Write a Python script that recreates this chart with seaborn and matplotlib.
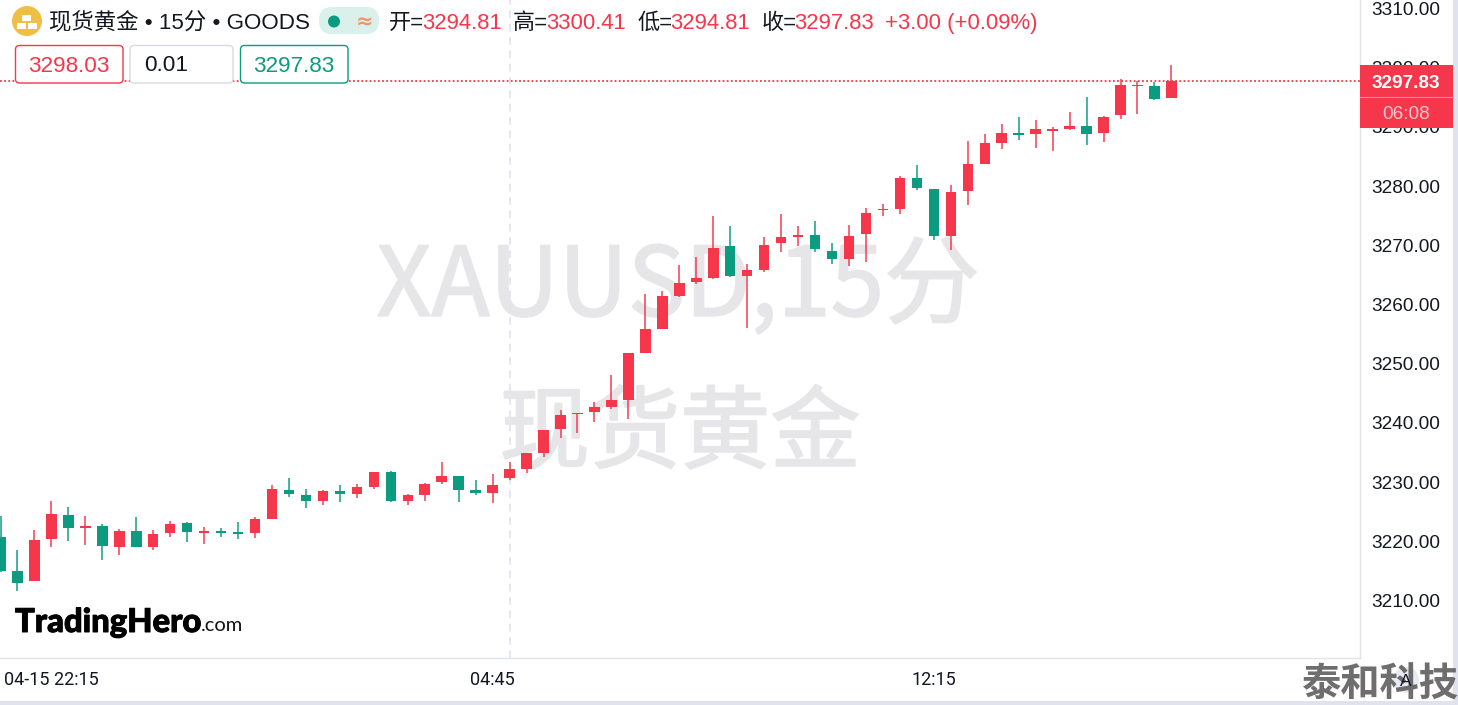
import numpy as np
import pandas as pd
import matplotlib
matplotlib.use("Agg")
import matplotlib.pyplot as plt
import matplotlib.patheffects as pe
import seaborn as sns
from matplotlib.patches import Circle, FancyBboxPatch, Rectangle

# OHLC, one candle every 15 minutes
opens = [3220.78, 3214.98, 3213.24, 3220.34, 3224.49, 3222.25, 3222.64, 3219.09, 3221.79, 3219.09,
         3221.35, 3223.04, 3221.45, 3221.74, 3221.52, 3221.35, 3223.72, 3228.67, 3227.87, 3226.76,
         3228.45, 3227.99, 3229.12, 3231.66, 3226.81, 3227.87, 3230.02, 3230.98, 3228.61, 3228.21,
         3230.64, 3232.16, 3234.92, 3238.92, 3241.45, 3241.84, 3242.64, 3243.87, 3251.76, 3255.86,
         3261.49, 3263.80, 3264.43, 3269.83, 3264.81, 3265.83, 3270.44, 3271.40, 3271.69, 3269.09,
         3267.74, 3271.91, 3275.96, 3276.13, 3281.37, 3279.51, 3271.52, 3279.17, 3283.68, 3287.33,
         3288.92, 3288.85, 3289.36, 3289.65, 3290.20, 3288.97, 3292.06, 3296.86, 3296.91, 3294.81]
highs = [3224.27, 3218.53, 3221.86, 3226.81, 3225.74, 3224.27, 3222.87, 3222.03, 3224.05, 3221.91,
         3223.43, 3223.31, 3222.42, 3222.25, 3223.21, 3224.10, 3229.51, 3230.69, 3228.83, 3228.61,
         3229.51, 3229.63, 3231.66, 3231.82, 3227.99, 3229.85, 3233.40, 3230.98, 3230.36, 3231.42,
         3233.40, 3235.00, 3238.80, 3242.18, 3241.62, 3243.53, 3248.14, 3251.76, 3261.77, 3262.23,
         3266.67, 3268.02, 3274.95, 3273.26, 3266.79, 3271.35, 3275.24, 3273.26, 3274.05, 3270.44,
         3273.38, 3276.25, 3276.93, 3281.66, 3283.56, 3279.51, 3280.14, 3287.57, 3288.85, 3290.44,
         3291.67, 3291.11, 3290.03, 3292.57, 3295.05, 3291.84, 3298.04, 3297.75, 3297.53, 3300.41]
lows = [3214.81, 3211.60, 3213.24, 3219.04, 3220.10, 3219.43, 3216.89, 3217.74, 3219.09, 3218.48,
        3220.78, 3219.83, 3219.49, 3220.68, 3220.44, 3220.51, 3223.72, 3227.48, 3225.63, 3226.18,
        3226.64, 3227.26, 3228.78, 3226.64, 3226.18, 3226.86, 3229.68, 3226.69, 3227.87, 3226.52,
        3230.36, 3231.49, 3234.29, 3237.50, 3238.29, 3240.10, 3242.30, 3240.71, 3251.76, 3255.86,
        3261.27, 3263.46, 3264.26, 3264.65, 3256.08, 3265.44, 3268.82, 3269.93, 3268.82, 3266.89,
        3266.50, 3267.18, 3274.95, 3275.29, 3279.39, 3270.84, 3269.26, 3276.81, 3283.68, 3286.22,
        3287.74, 3286.44, 3285.98, 3289.43, 3286.89, 3287.45, 3291.33, 3292.23, 3294.54, 3294.81]
closes = [3215.03, 3213.01, 3220.17, 3224.66, 3222.25, 3222.64, 3219.26, 3221.79, 3219.09, 3221.28,
          3222.92, 3221.52, 3221.74, 3221.45, 3221.23, 3223.72, 3228.78, 3227.94, 3226.81, 3228.45,
          3228.04, 3229.12, 3231.66, 3226.81, 3227.87, 3229.73, 3231.08, 3228.67, 3228.21, 3229.51,
          3232.16, 3235.00, 3238.80, 3241.28, 3241.62, 3242.69, 3243.87, 3251.76, 3255.86, 3261.44,
          3263.63, 3264.43, 3269.59, 3264.81, 3265.78, 3270.00, 3271.35, 3271.74, 3269.32, 3267.74,
          3271.52, 3275.51, 3276.18, 3281.37, 3279.63, 3271.52, 3279.00, 3283.68, 3287.33, 3289.02,
          3288.68, 3289.59, 3289.59, 3290.20, 3288.85, 3291.67, 3297.08, 3297.08, 3294.76, 3297.83]

price_ticks = [3210, 3220, 3230, 3240, 3250, 3260, 3270, 3280, 3290, 3300, 3310]
time_idx = [3, 29, 55]
time_labels = ["04-15 22:15", "04:45", "12:15"]
last_price = 3297.83
crosshair_idx = 30

RED = "#F6364B"
GREEN = "#0A9B80"
LINE = "#E0E3EE"
WM = "#E6E6E9"
LATIN = ["Liberation Sans", "Noto Sans CJK SC"]

W, H = 1458, 705
AX_R, AX_B = 1360, 657.5
PX_PER_BAR = 16.97

sns.set_theme(style="white")
plt.rcParams["font.family"] = LATIN

df = pd.DataFrame({"idx": np.arange(len(opens)), "open": opens, "high": highs, "low": lows, "close": closes})
df["body"] = (df["close"] - df["open"]).abs()
df["bottom"] = df[["open", "close"]].min(axis=1)
df["up"] = df["close"] >= df["open"]

fig = plt.figure(figsize=(W / 100, H / 100), dpi=100)
ax = fig.add_axes([0, (H - AX_B) / H, AX_R / W, AX_B / H])

for is_up, color in [(True, RED), (False, GREEN)]:
    part = df[df["up"] == is_up]
    ax.vlines(part["idx"], part["low"], part["high"], color=color, lw=1.25, alpha=0.85, zorder=2)
    sns.barplot(data=part, x="idx", y="body", bottom=part["bottom"].to_numpy(), native_scale=True,
                color=color, saturation=1, width=0.62, errorbar=None, linewidth=0, zorder=3, ax=ax)

ax.set_xlim(-0.03, (AX_R - 0.5) / PX_PER_BAR)
ax.set_ylim(3210 + (600.5 - AX_B) / 5.92, 3210 + 600.5 / 5.92)
ax.axvline(crosshair_idx, color=LINE, lw=1.2, ls=(0, (4.5, 3.5)), zorder=1)
ax.axhline(last_price, color=RED, lw=1.3, ls=(0, (1.0, 1.3)), zorder=4)

ax.set_xlabel("")
ax.set_ylabel("")
ax.yaxis.tick_right()
ax.set_yticks(price_ticks, [f"{p:.2f}" for p in price_ticks])
ax.set_xticks(time_idx, time_labels)
ax.tick_params(axis="y", length=0, pad=8.5, labelsize=13.7, labelcolor="#131722")
ax.tick_params(axis="x", length=0, pad=9.5, labelsize=13, labelcolor="#131722")
for lab in ax.get_xticklabels():
    lab.set_family("Roboto")
sns.despine(ax=ax, top=True, left=True, right=False, bottom=False)
for side in ["right", "bottom"]:
    ax.spines[side].set_color(LINE)
    ax.spines[side].set_linewidth(1.0)


def wm(x, y, s, size):
    t = ax.text(x / AX_R, 1 - y / AX_B, s, transform=ax.transAxes, color=WM, fontsize=size,
                ha="center", va="center", zorder=0.5, family=["Noto Sans CJK SC", "DejaVu Sans"])
    t.set_path_effects([pe.withStroke(linewidth=1.3, foreground=WM)])


wm(678, 288, "XAUUSD,15分", 69)
wm(680, 436, "现货黄金", 65)

# overlay in picture pixels for the header and other chrome
ov = fig.add_axes([0, 0, 1, 1], zorder=5)
ov.set_xlim(0, W)
ov.set_ylim(H, 0)
ov.axis("off")
ov.patch.set_alpha(0)


def txt(x, y, s, color="#131722", size=15.9, ha="left", va="baseline", **kw):
    kw.setdefault("family", LATIN)
    return ov.text(x, y, s, color=color, fontsize=size, ha=ha, va=va, **kw)


def box(x0, y0, x1, y1, edge):
    ov.add_patch(FancyBboxPatch((x0 + 3, y0 + 3), x1 - x0 - 6, y1 - y0 - 6, boxstyle="round,pad=3,rounding_size=4",
                                fc="white", ec=edge, lw=1.0))


# icon
ov.add_patch(Circle((27, 21), 15, fc="#EFBE45", ec="none"))
for x0, y0 in [(22, 15), (17, 23), (28, 23)]:
    ov.add_patch(Rectangle((x0, y0), 9.5, 5.5, fc="white", ec="none"))

txt(49, 29, "现货黄金 • 15分 • GOODS", size=16.15)
ov.add_patch(FancyBboxPatch((326, 14), 46, 13, boxstyle="round,pad=7,rounding_size=13", fc="#D9F0EB", ec="none"))
ov.add_patch(Circle((334, 21.5), 6, fc=GREEN, ec="none"))
txt(365, 22, "≈", color="#F4956A", size=15, ha="center", va="center", weight="bold", family=["DejaVu Sans"])

txt(389, 29, "开=")
txt(422, 29, "3294.81", RED)
txt(513, 29, "高=")
txt(546.5, 29, "3300.41", RED)
txt(637.5, 29, "低=")
txt(670.5, 29, "3294.81", RED)
txt(762, 29, "收=")
txt(794.5, 29, "3297.83", RED)
txt(885, 29, "+3.00 (+0.09%)", RED)

box(15.5, 45.5, 123, 83, RED)
box(130, 45.5, 233, 83, "#D8DBE6")
box(240.5, 45.5, 348, 83, GREEN)
txt(69, 72, "3298.03", RED, size=16.2, ha="center")
txt(144, 71, "0.01", size=16.2)
txt(294, 72, "3297.83", GREEN, size=16.2, ha="center")

# last price tag
ov.add_patch(Rectangle((AX_R, 65), 93.5, 63, fc=RED, ec="none"))
ov.plot([AX_R, AX_R + 93.5], [96.5, 96.5], color="#F98A96", lw=0.8)
txt(1406, 88, "3297.83", "white", size=13.7, ha="center", weight="bold")
txt(1406, 119, "06:08", "#FFC9CF", size=13.7, ha="center")

# frame strips
ov.add_patch(Rectangle((1453, 0), 5, H, fc=LINE, ec="none"))
ov.add_patch(Rectangle((0, 700.5), W, 4.5, fc=LINE, ec="none"))

# logo
logo = txt(15, 632, "TradingHero", "black", size=23.6, weight="black", family=["Lato"])
logo.set_path_effects([pe.withStroke(linewidth=0.7, foreground="black")])
txt(201, 631, ".com", "#111111", size=14.5, family=["Lato"])

# auto button and stamp
ov.add_patch(Circle((1406, 680), 13, fc="#E8E9F2", ec="none"))
txt(1380, 685, "泰和科技", "#555555", size=28.3, ha="center", va="center", weight="bold",
    family=["Noto Sans CJK SC"], alpha=0.85, zorder=6)
txt(1406, 686, "A", size=12.5, ha="center", zorder=7)

fig.savefig("out.png", dpi=100)
